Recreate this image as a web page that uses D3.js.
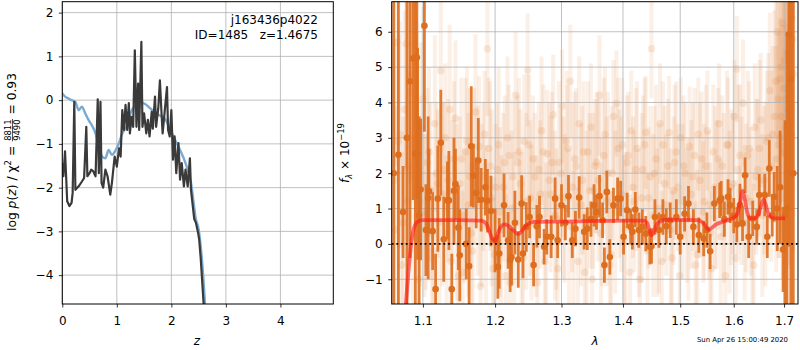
<!DOCTYPE html>
<html>
<head>
<meta charset="utf-8">
<script src="https://cdn.jsdelivr.net/npm/d3@7"></script>
<style>
  body { margin: 0; background: #fff; }
  svg { font-family: "DejaVu Sans", sans-serif; }
</style>
</head>
<body>
<div id="chart"></div>
<script>
// ---- left panel: p(z) curves ----
var pzRedshift = [0.0, 0.02, 0.05, 0.07, 0.09, 0.13, 0.17, 0.19, 0.22, 0.24, 0.30, 0.36, 0.40, 0.44, 0.46, 0.50,
    0.53, 0.57, 0.61, 0.65, 0.67, 0.70, 0.72, 0.75, 0.79, 0.83, 0.88, 0.91, 0.96, 1.00, 1.04, 1.07, 1.10,
    1.13, 1.16, 1.19, 1.22, 1.24, 1.27, 1.30, 1.33, 1.36, 1.39, 1.41, 1.45, 1.47, 1.50, 1.54, 1.57, 1.60,
    1.64, 1.66, 1.70, 1.72, 1.76, 1.79, 1.82, 1.84, 1.88, 1.92, 1.94, 1.97, 2.00, 2.03, 2.06, 2.09, 2.13,
    2.16, 2.19, 2.23, 2.26, 2.30, 2.34, 2.36, 2.42, 2.45, 2.49, 2.51, 2.54, 2.59, 2.62];
var pzLog = [-1.44, -1.74, -1.17, -1.74, -2.31, -2.42, -2.35, -2.12, -0.04, -2.05, -1.97, -1.86, -1.78, -0.61, -1.74, -1.67,
    -1.59, -1.63, -1.74, 0.02, -1.67, -0.04, -1.89, -2.00, -1.59, -1.74, -2.16, -1.89, -1.29, -1.52, -1.10, -1.29, -0.23,
    -0.68, -0.11, -0.68, -0.07, -0.76, -0.38, -0.61, 1.14, -0.61, 0.38, -0.68, 1.33, -0.61, -0.30, -0.76, -0.45, -0.83,
    -0.27, -0.65, 0.08, -0.61, -0.19, 0.45, -0.30, -0.76, -0.23, 0.30, -0.68, -0.83, -0.23, -1.36, -0.83, -1.67, -0.98,
    -1.82, -1.44, -1.97, -1.59, -1.97, -1.33, -2.05, -2.72, -2.80, -3.03, -3.18, -3.64, -4.62, -5.2];

var priorRedshift = [0.0, 0.05, 0.11, 0.17, 0.24, 0.30, 0.36, 0.42, 0.48, 0.54, 0.61, 0.67, 0.73, 0.79, 0.85, 0.91,
    0.98, 1.04, 1.10, 1.19, 1.25, 1.35, 1.43, 1.52, 1.65, 1.77, 1.88, 1.98, 2.07, 2.16, 2.26, 2.36, 2.45,
    2.50, 2.555, 2.615, 2.64];
var priorLog = [0.15, 0.08, 0.04, 0.0, -0.04, -0.23, -0.15, -0.30, -0.45, -0.57, -0.76, -1.06, -1.29, -1.33, -1.14, -1.25,
    -1.14, -0.98, -0.76, -0.57, -0.30, -0.11, -0.04, -0.09, -0.23, -0.34, -0.42, -0.68, -0.91, -1.14, -1.44, -1.89, -2.72,
    -2.95, -3.56, -4.62, -5.2];

var pzXTicks = [0, 1, 2, 3, 4];
var pzYTicks = [-4, -3, -2, -1, 0, 1, 2];

// ---- right panel: spectrum ----
// faint: all individual exposures (two sets)
var bgWave = [1.062, 1.066, 1.070, 1.074, 1.078, 1.081, 1.085, 1.089, 1.092, 1.096,
    1.100, 1.104, 1.108, 1.112, 1.116, 1.120, 1.124, 1.128, 1.132, 1.136,
    1.140, 1.144, 1.148, 1.152, 1.156, 1.160, 1.164, 1.168, 1.172, 1.177,
    1.181, 1.185, 1.189, 1.193, 1.197, 1.201, 1.205, 1.209, 1.214, 1.218,
    1.222, 1.226, 1.230, 1.235, 1.239, 1.243, 1.248, 1.252, 1.256, 1.261,
    1.265, 1.269, 1.274, 1.278, 1.283, 1.287, 1.292, 1.296, 1.301, 1.305,
    1.310, 1.314, 1.319, 1.323, 1.328, 1.333, 1.337, 1.342, 1.347, 1.351,
    1.356, 1.361, 1.365, 1.370, 1.375, 1.380, 1.384, 1.389, 1.394, 1.399,
    1.404, 1.409, 1.414, 1.419, 1.424, 1.429, 1.434, 1.439, 1.444, 1.449,
    1.454, 1.459, 1.464, 1.469, 1.475, 1.480, 1.485, 1.490, 1.496, 1.501,
    1.506, 1.512, 1.517, 1.523, 1.528, 1.533, 1.539, 1.544, 1.550, 1.555,
    1.561, 1.567, 1.572, 1.578, 1.584, 1.589, 1.595, 1.601, 1.606, 1.612,
    1.618, 1.624, 1.630, 1.636, 1.641, 1.647, 1.653, 1.659, 1.665, 1.671,
    1.677, 1.683, 1.686, 1.689, 1.692, 1.695, 1.698, 1.701, 1.704, 1.707,
    1.710, 1.713, 1.716, 1.719];
var bgFlux = [1.8, 5.7, 3.1, 0.6, 5.66, 2.2, 4.8, 5.66, 3.4, 1.2,
    4.1, 0.9, 2.6, -0.4, 3.4, 1.7, 4.9, 2.1, 0.3, 3.8,
    1.5, 3.55, -0.9, 2.4, 0.8, 2.9, 1.9, -0.2, 3.73, 2.75,
    1.1, 3.1, 5.52, 2.2, -0.7, 1.6, 2.8, 0.4, 2.3, 3.0,
    -1.1, 1.9, 4.2, 2.6, 0.2, 2.9, 4.92, 1.3, 2.4, 0.5,
    2.1, 3.2, -0.5, 2.55, 1.4, 3.65, 0.7, 2.3, 3.9, 1.0,
    2.7, 4.6, 0.1, 2.2, 3.4, 1.8, -0.8, 2.6, 3.3, 1.5,
    2.3, 4.2, 0.9, 3.1, 2.0, -0.3, 3.6, 3.97, 1.7, 2.8,
    0.4, 2.5, 3.2, 1.2, 2.7, -1.0, 2.1, 3.15, 1.3, 5.52,
    2.0, 0.6, 3.4, 2.8, 1.1, 3.15, -0.4, 2.3, 1.6, 3.0,
    2.2, 0.8, 2.75, 1.9, -0.6, 3.1, 2.4, 1.2, 3.2, 0.3,
    2.6, 1.4, 3.4, 2.2, -0.9, 2.8, 1.6, 3.6, 4.95, 2.5,
    3.98, 1.3, 2.7, 0.5, 3.3, 2.1, 3.5, 1.8, 2.9, 4.34,
    3.1, 4.6, 5.99, 2.8, 4.67, 3.6, 6.25, 5.2, 4.1, 6.1,
    3.3, 5.6, 6.4, 4.8];
var bgErr = [4.0, 3.5, 3.2, 3.0, 3.6, 2.8, 3.0, 3.4, 2.6, 2.4,
    2.6, 2.2, 2.4, 2.0, 2.5, 2.1, 2.3, 1.9, 2.2, 2.4,
    2.0, 2.2, 1.8, 2.3, 1.9, 2.1, 2.5, 1.7, 2.2, 2.0,
    2.3, 1.8, 1.9, 2.4, 2.0, 1.8, 2.2, 2.1, 1.9, 2.3,
    2.0, 2.2, 1.8, 2.1, 2.4, 1.9, 1.6, 2.2, 1.8, 2.0,
    1.9, 2.1, 2.0, 1.8, 2.2, 1.7, 2.0, 2.3, 1.6, 2.1,
    1.8, 1.6, 2.0, 2.2, 1.9, 2.1, 1.7, 2.0, 1.8, 2.2,
    2.0, 1.7, 2.1, 1.9, 2.3, 1.8, 1.6, 1.5, 2.1, 1.9,
    2.2, 1.8, 1.7, 2.0, 1.9, 1.8, 2.1, 1.6, 2.0, 1.4,
    1.9, 2.1, 1.7, 1.8, 2.0, 1.6, 1.9, 2.2, 1.8, 1.7,
    2.0, 1.9, 1.7, 2.1, 1.8, 1.6, 1.9, 2.2, 1.7, 2.0,
    1.9, 2.1, 1.7, 2.0, 1.8, 1.9, 2.2, 1.6, 1.5, 2.0,
    1.8, 2.1, 1.9, 2.2, 1.8, 2.0, 1.9, 2.1, 2.0, 2.2,
    2.5, 2.8, 3.0, 3.2, 3.5, 3.3, 3.8, 4.0, 3.6, 4.2,
    4.0, 4.5, 4.8, 5.0];

var bg2Wave = [1.064, 1.068, 1.072, 1.076, 1.080, 1.083, 1.087, 1.091, 1.094, 1.098,
    1.102, 1.106, 1.110, 1.114, 1.118, 1.122, 1.126, 1.130, 1.134, 1.138,
    1.142, 1.146, 1.150, 1.154, 1.158, 1.162, 1.166, 1.170, 1.175, 1.179,
    1.183, 1.187, 1.191, 1.195, 1.199, 1.203, 1.207, 1.212, 1.216, 1.220,
    1.224, 1.228, 1.233, 1.237, 1.241, 1.246, 1.250, 1.254, 1.259, 1.263,
    1.267, 1.272, 1.276, 1.281, 1.285, 1.290, 1.294, 1.299, 1.303, 1.308,
    1.312, 1.317, 1.321, 1.326, 1.331, 1.335, 1.340, 1.345, 1.349, 1.354,
    1.359, 1.363, 1.368, 1.373, 1.378, 1.382, 1.387, 1.392, 1.397, 1.402,
    1.407, 1.412, 1.417, 1.422, 1.427, 1.432, 1.437, 1.442, 1.447, 1.452,
    1.457, 1.462, 1.467, 1.472, 1.478, 1.483, 1.488, 1.493, 1.499, 1.504,
    1.509, 1.515, 1.520, 1.526, 1.531, 1.536, 1.542, 1.547, 1.553, 1.558,
    1.564, 1.570, 1.575, 1.581, 1.587, 1.592, 1.598, 1.604, 1.609, 1.615,
    1.621, 1.627, 1.633, 1.639, 1.644, 1.650, 1.656, 1.662, 1.668, 1.674,
    1.680, 1.684, 1.688, 1.691, 1.694, 1.697, 1.700, 1.703, 1.706, 1.709,
    1.712, 1.715, 1.718];
var bg2Flux = [0.4, 2.9, -0.6, 3.8, 1.2, 4.3, 0.2, 2.7, -1.0, 3.3,
    0.8, 2.3, 1.5, -0.2, 2.0, 0.6, 1.4, 3.0, 1.8, -0.5,
    2.4, 0.9, 1.7, -0.8, 2.6, 1.1, 0.3, 2.2, 1.5, -1.2,
    1.9, 0.5, 2.7, 1.3, -0.3, 2.1, 0.9, 1.6, -0.9, 2.5,
    1.0, 0.2, 2.3, 1.7, -0.4, 1.2, 2.8, 0.6, 1.9, -1.1,
    1.4, 2.6, 0.0, 1.8, 2.3, 0.8, -0.7, 2.0, 1.3, 2.9,
    0.5, 1.6, 2.4, -0.5, 1.1, 2.6, 0.7, 1.5, -1.0, 2.2,
    1.8, 0.3, 2.5, 1.2, -0.6, 2.0, 0.9, 2.7, 1.4, 0.1,
    2.3, -0.8, 1.6, 2.1, 0.6, 1.3, 2.8, -0.2, 1.9, 0.8,
    2.4, 1.0, -0.5, 1.7, 2.2, 0.4, 1.5, 2.6, -0.9, 1.2,
    2.0, 0.7, 1.4, 2.5, -0.3, 1.8, 0.9, 2.2, 1.1, -0.7,
    1.6, 2.4, 0.2, 1.3, 2.8, 0.9, 1.7, -0.4, 2.1, 1.5,
    0.6, 2.5, 1.2, -0.6, 1.9, 2.7, 0.8, 1.4, 3.0, 2.2,
    3.6, 2.4, 4.1, 3.0, 5.0, 2.6, 4.4, 3.3, 5.4, 3.8,
    4.6, 3.1, 5.8];
var bg2Err = [3.5, 3.0, 3.2, 2.8, 3.0, 2.6, 2.9, 2.5, 2.7, 2.4,
    2.3, 2.1, 2.5, 2.2, 2.0, 2.4, 2.6, 2.1, 2.3, 2.0,
    2.2, 2.5, 1.9, 2.3, 2.1, 2.6, 2.0, 2.2, 2.4, 1.9,
    2.1, 2.3, 2.0, 2.5, 2.2, 1.9, 2.4, 2.1, 2.3, 2.0,
    2.2, 2.4, 1.9, 2.1, 2.3, 2.5, 2.0, 2.2, 1.8, 2.4,
    2.1, 1.9, 2.3, 2.2, 2.0, 2.4, 2.1, 1.8, 2.3, 2.0,
    2.2, 2.4, 1.9, 2.1, 2.3, 2.0, 2.5, 2.2, 2.1, 1.9,
    2.3, 2.0, 2.2, 2.4, 2.1, 1.9, 2.3, 2.0, 2.2, 2.4,
    1.9, 2.2, 2.0, 2.3, 2.1, 2.4, 1.9, 2.2, 2.0, 2.3,
    2.1, 2.4, 2.0, 2.2, 1.9, 2.3, 2.1, 2.0, 2.4, 2.2,
    2.0, 2.3, 2.1, 1.9, 2.4, 2.2, 2.0, 2.3, 2.1, 2.2,
    2.3, 2.0, 2.2, 2.4, 2.1, 2.3, 2.0, 2.2, 2.4, 2.1,
    2.2, 2.4, 2.1, 2.3, 2.2, 2.5, 2.3, 2.6, 2.4, 2.7,
    3.0, 3.2, 3.5, 3.4, 3.8, 3.6, 4.0, 3.9, 4.2, 4.4,
    4.5, 4.8, 5.0];

// bright: combined 1D spectrum
var specWave = [1.062, 1.068, 1.074, 1.079, 1.083, 1.087, 1.090, 1.092, 1.093, 1.095,
    1.097, 1.102, 1.104, 1.107, 1.108, 1.113, 1.117, 1.120, 1.124, 1.128,
    1.133, 1.135, 1.139, 1.142, 1.144, 1.148, 1.150, 1.159, 1.163, 1.166,
    1.169, 1.173, 1.176, 1.180, 1.186, 1.189, 1.194, 1.200, 1.204, 1.206,
    1.213, 1.219, 1.222, 1.224, 1.229, 1.234, 1.239, 1.241, 1.246, 1.251,
    1.257, 1.262, 1.266, 1.273, 1.277, 1.284, 1.290, 1.294, 1.300, 1.306,
    1.311, 1.317, 1.322, 1.328, 1.336, 1.341, 1.347, 1.352, 1.356, 1.361,
    1.366, 1.369, 1.373, 1.378, 1.384, 1.391, 1.396, 1.401, 1.407, 1.413,
    1.416, 1.421, 1.427, 1.433, 1.439, 1.446, 1.449, 1.455, 1.462, 1.469,
    1.475, 1.482, 1.493, 1.500, 1.508, 1.515, 1.524, 1.534, 1.543, 1.549,
    1.555, 1.563, 1.573, 1.576, 1.582, 1.589, 1.593, 1.600, 1.606, 1.612,
    1.617, 1.622, 1.629, 1.637, 1.645, 1.650, 1.661, 1.666, 1.670, 1.676,
    1.680, 1.686, 1.692, 1.698, 1.702, 1.706, 1.710, 1.714, 1.719];
var specFlux = [2.0, 2.52, 0.9, 3.0, 4.6, 5.24, 2.55, 5.27, 2.55, 0.8,
    1.54, 6.17, 0.39, 1.3, 1.49, 0.36, -1.28, 1.28, 2.86, 0.13,
    1.23, 1.23, -1.28, 1.5, 1.69, 0.46, -0.32, 0.0, -0.63, 2.76,
    1.93, 1.44, 2.36, 1.25, 1.6, 1.22, 0.93, 0.1, -0.65, -0.27,
    1.09, 0.1, -0.46, -0.37, 0.6, -0.44, 1.14, -0.27, 0.48, 0.76,
    -0.6, 0.5, 0.76, -0.08, 0.2, 0.2, 1.28, 0.1, 1.09, 0.6,
    1.35, 0.1, 0.43, 1.31, 0.34, 0.43, 0.7, 1.09, 0.9, 1.35,
    0.67, -0.6, 1.47, -0.37, 1.09, 1.28, 1.28, 0.2, 0.95, 0.48,
    0.34, 0.97, 0.39, 0.48, 0.29, -0.08, -0.06, 0.76, 0.39, 0.76,
    0.5, 0.67, 0.76, 0.2, 0.85, 1.14, 0.48, 0.25, 0.15, 0.39,
    -0.21, 1.14, 1.23, 1.28, 0.7, 1.33, 1.09, 0.8, 0.55, 1.1,
    0.58, 1.94, 0.2, 0.72, 0.48, 1.38, 1.38, 0.2, 2.13, 0.81,
    1.33, 1.0, 1.6, -0.16, 0.8, 1.0, 5.92, 4.67, 2.0];
var specErr = [9.0, 8.0, 1.3, 6.0, 5.0, 4.0, 4.5, 4.0, 3.0, 2.8,
    2.0, 3.0, 1.3, 2.3, 1.2, 1.1, 1.0, 1.5, 1.5, 1.2,
    1.1, 1.4, 1.0, 1.5, 1.0, 1.2, 1.3, 1.0, 1.1, 1.7,
    0.9, 1.0, 1.2, 0.9, 0.8, 0.9, 1.0, 0.9, 0.9, 1.0,
    0.9, 0.8, 0.9, 0.8, 0.9, 0.8, 0.8, 0.7, 0.7, 0.6,
    0.6, 0.6, 0.6, 0.5, 0.5, 0.6, 0.6, 0.5, 0.6, 0.5,
    0.6, 0.5, 0.5, 0.6, 0.5, 0.6, 0.5, 0.6, 0.5, 0.6,
    0.5, 0.5, 0.6, 0.5, 0.5, 0.6, 0.5, 0.5, 0.5, 0.5,
    0.5, 0.5, 0.5, 0.5, 0.5, 0.5, 0.5, 0.5, 0.5, 0.5,
    0.5, 0.5, 0.5, 0.5, 0.5, 0.5, 0.5, 0.5, 0.5, 0.5,
    0.5, 0.5, 0.5, 0.5, 0.5, 0.5, 0.5, 0.5, 0.5, 0.6,
    0.5, 0.5, 0.6, 0.5, 0.5, 0.6, 0.6, 0.6, 0.8, 0.6,
    0.7, 1.2, 1.6, 1.2, 2.7, 5.0, 6.0, 7.0, 10.0];

// best-fit template
var modelWave = [1.074, 1.078, 1.081, 1.084, 1.087, 1.090, 1.094, 1.100, 1.150, 1.180,
    1.186, 1.191, 1.196, 1.200, 1.204, 1.209, 1.214, 1.220, 1.227, 1.233,
    1.238, 1.244, 1.250, 1.258, 1.300, 1.400, 1.435, 1.441, 1.445, 1.449,
    1.453, 1.458, 1.465, 1.475, 1.530, 1.540, 1.548, 1.553, 1.558, 1.566,
    1.578, 1.590, 1.600, 1.607, 1.612, 1.617, 1.621, 1.626, 1.632, 1.640,
    1.647, 1.653, 1.658, 1.663, 1.668, 1.675, 1.685, 1.702];
var modelFlux = [-2.5, -1.6, -0.8, -0.1, 0.35, 0.55, 0.64, 0.67, 0.67, 0.66,
    0.6, 0.4, 0.15, 0.08, 0.3, 0.5, 0.55, 0.5, 0.38, 0.28,
    0.33, 0.48, 0.58, 0.62, 0.63, 0.66, 0.66, 0.6, 0.4, 0.24,
    0.35, 0.55, 0.65, 0.68, 0.67, 0.62, 0.48, 0.4, 0.45, 0.55,
    0.62, 0.68, 0.74, 0.85, 1.15, 1.5, 1.3, 0.9, 0.72, 0.72,
    0.8, 1.05, 1.25, 1.1, 0.85, 0.74, 0.72, 0.72];

var specXTicks = [1.1, 1.2, 1.3, 1.4, 1.5, 1.6, 1.7];
var specYTicks = [-1, 0, 1, 2, 3, 4, 5, 6];

var fontSize = 12;
var orange = "#de6e1e";

var svg = d3.select("#chart")
    .append("svg")
    .attr("width", 800)
    .attr("height", 350);

svg.append("rect").attr("width", 800).attr("height", 350).attr("fill", "#fff");

var defs = svg.append("defs");

// ================= left panel =================
var left = { x0: 62.3, x1: 333.3, y0: 1.7, y1: 304 };

var zx = d3.scaleLinear().domain([0, 4.97]).range([left.x0, left.x1]);
var zy = d3.scaleLinear().domain([-4.66, 2.25]).range([left.y1, left.y0]);

defs.append("clipPath").attr("id", "clipLeft")
    .append("rect")
    .attr("x", left.x0).attr("y", left.y0)
    .attr("width", left.x1 - left.x0).attr("height", left.y1 - left.y0);

var gLeft = svg.append("g");

// grid
gLeft.selectAll(".vgrid").data(pzXTicks).enter().append("line")
    .attr("x1", d => zx(d)).attr("x2", d => zx(d))
    .attr("y1", left.y0).attr("y2", left.y1)
    .attr("stroke", "#b0b0b0").attr("stroke-width", 0.8);
gLeft.selectAll(".hgrid").data(pzYTicks).enter().append("line")
    .attr("x1", left.x0).attr("x2", left.x1)
    .attr("y1", d => zy(d)).attr("y2", d => zy(d))
    .attr("stroke", "#b0b0b0").attr("stroke-width", 0.8);

var plotLeft = gLeft.append("g").attr("clip-path", "url(#clipLeft)");

var priorLine = d3.line()
    .x((d, i) => zx(priorRedshift[i]))
    .y(d => zy(d))
    .curve(d3.curveMonotoneX);

plotLeft.append("path")
    .attr("d", priorLine(priorLog))
    .attr("fill", "none")
    .attr("stroke", "#7aaad2")
    .attr("stroke-width", 2.4);

var pzLine = d3.line()
    .x((d, i) => zx(pzRedshift[i]))
    .y(d => zy(d));

plotLeft.append("path")
    .attr("d", pzLine(pzLog))
    .attr("fill", "none")
    .attr("stroke", "#3a3a3a")
    .attr("stroke-width", 2.2)
    .attr("stroke-linejoin", "round");

// axes
gLeft.append("g")
    .attr("transform", `translate(0, ${left.y1})`)
    .call(d3.axisBottom(zx).tickValues(pzXTicks).tickSize(3.5).tickPadding(8.5).tickFormat(d3.format("d")));
gLeft.append("g")
    .attr("transform", `translate(${left.x0}, 0)`)
    .call(d3.axisLeft(zy).tickValues(pzYTicks).tickSize(3.5).tickPadding(5.5).tickFormat(d3.format("d")));

gLeft.append("rect")
    .attr("x", left.x0).attr("y", left.y0)
    .attr("width", left.x1 - left.x0).attr("height", left.y1 - left.y0)
    .attr("fill", "none").attr("stroke", "#000").attr("stroke-width", 1);

gLeft.append("text")
    .attr("x", 318).attr("y", 24)
    .attr("text-anchor", "end")
    .attr("font-size", fontSize)
    .text("j163436p4022");
gLeft.append("text")
    .attr("x", 318).attr("y", 39)
    .attr("text-anchor", "end")
    .attr("font-size", fontSize)
    .text("ID=1485\u00a0\u00a0\u00a0z=1.4675");

gLeft.append("text")
    .attr("x", zx(2.47)).attr("y", 345)
    .attr("text-anchor", "middle")
    .attr("font-size", fontSize)
    .attr("font-style", "italic")
    .text("z");

// rotated y label with fraction, pieces laid out one after another
var labSize = 12.3;
var yLab = gLeft.append("g").attr("transform", "translate(16, 152) rotate(-90)");
var pieces = [
    { t: "log\u00a0", size: labSize },
    { t: "p", size: labSize, it: true },
    { t: "(", size: labSize },
    { t: "z", size: labSize, it: true },
    { t: ")\u00a0/\u00a0χ", size: labSize },
    { t: "2", size: 8.6, dy: -5.5 },
    { t: "\u00a0=\u00a0", size: labSize },
    { frac: ["8811", "9490"], size: 8.4 },
    { t: "\u00a0=\u00a00.93", size: labSize }
];
var cursor = 0;
pieces.forEach(function(p) {
    if (p.frac) {
        var num = yLab.append("text").attr("y", -5)
            .attr("font-size", p.size).attr("text-anchor", "middle").text(p.frac[0]);
        var den = yLab.append("text").attr("y", 4)
            .attr("font-size", p.size).attr("text-anchor", "middle").text(p.frac[1]);
        var w = Math.max(num.node().getComputedTextLength(), den.node().getComputedTextLength());
        num.attr("x", cursor + w / 2 + 1);
        den.attr("x", cursor + w / 2 + 1);
        yLab.append("line")
            .attr("x1", cursor + 0.5).attr("x2", cursor + w + 1.5)
            .attr("y1", -3.5).attr("y2", -3.5)
            .attr("stroke", "#000").attr("stroke-width", 0.7);
        cursor += w + 2;
    } else {
        var t = yLab.append("text")
            .attr("x", cursor).attr("y", p.dy || 0)
            .attr("font-size", p.size)
            .attr("font-style", p.it ? "italic" : null)
            .text(p.t);
        cursor += t.node().getComputedTextLength();
    }
});
yLab.selectAll("*").attr("transform", `translate(${-cursor / 2}, 0)`);

// ================= right panel =================
var right = { x0: 391.7, x1: 798, y0: 1.7, y1: 304 };

var wx = d3.scaleLog().domain([1.0594, 1.7288]).range([right.x0, right.x1]);
var fy = d3.scaleLinear().domain([-1.70, 6.85]).range([right.y1, right.y0]);

defs.append("clipPath").attr("id", "clipRight")
    .append("rect")
    .attr("x", right.x0).attr("y", right.y0)
    .attr("width", right.x1 - right.x0).attr("height", right.y1 - right.y0);

var gRight = svg.append("g");
var plotRight = gRight.append("g").attr("clip-path", "url(#clipRight)");

// faint individual exposures
function drawFaint(wave, flux, err) {
    var g = plotRight.append("g");
    g.selectAll("line").data(flux).enter().append("line")
        .attr("x1", (d, i) => wx(wave[i])).attr("x2", (d, i) => wx(wave[i]))
        .attr("y1", (d, i) => fy(d - err[i])).attr("y2", (d, i) => fy(d + err[i]))
        .attr("stroke", orange).attr("stroke-opacity", 0.11).attr("stroke-width", 4);
    g.selectAll("circle").data(flux).enter().append("circle")
        .attr("cx", (d, i) => wx(wave[i]))
        .attr("cy", d => fy(d))
        .attr("r", 3.8)
        .attr("fill", orange).attr("fill-opacity", 0.14);
}
drawFaint(bgWave, bgFlux, bgErr);
drawFaint(bg2Wave, bg2Flux, bg2Err);

// grid
gRight.selectAll(".vgrid").data(specXTicks).enter().append("line")
    .attr("x1", d => wx(d)).attr("x2", d => wx(d))
    .attr("y1", right.y0).attr("y2", right.y1)
    .attr("stroke", "#b0b0b0").attr("stroke-width", 0.8);
gRight.selectAll(".hgrid").data(specYTicks).enter().append("line")
    .attr("x1", right.x0).attr("x2", right.x1)
    .attr("y1", d => fy(d)).attr("y2", d => fy(d))
    .attr("stroke", "#b0b0b0").attr("stroke-width", 0.8);

var plotTop = gRight.append("g").attr("clip-path", "url(#clipRight)");

// combined spectrum with error bars
plotTop.selectAll(".bar").data(specFlux).enter().append("line")
    .attr("x1", (d, i) => wx(specWave[i])).attr("x2", (d, i) => wx(specWave[i]))
    .attr("y1", (d, i) => fy(d - specErr[i])).attr("y2", (d, i) => fy(d + specErr[i]))
    .attr("stroke", orange).attr("stroke-opacity", 0.9).attr("stroke-width", 2.8);
plotTop.selectAll(".dot").data(specFlux).enter().append("circle")
    .attr("cx", (d, i) => wx(specWave[i]))
    .attr("cy", d => fy(d))
    .attr("r", 3.3)
    .attr("fill", orange);

// model
var modelLine = d3.line()
    .x((d, i) => wx(modelWave[i]))
    .y(d => fy(d))
    .curve(d3.curveMonotoneX);
plotTop.append("path")
    .attr("d", modelLine(modelFlux))
    .attr("fill", "none")
    .attr("stroke", "#ff1a1a")
    .attr("stroke-opacity", 0.62)
    .attr("stroke-width", 3.8)
    .attr("stroke-linejoin", "round");

// zero line
plotTop.append("line")
    .attr("x1", right.x0).attr("x2", right.x1)
    .attr("y1", fy(0)).attr("y2", fy(0))
    .attr("stroke", "#000").attr("stroke-width", 1.8)
    .attr("stroke-dasharray", "1.8,2.9");

gRight.append("g")
    .attr("transform", `translate(0, ${right.y1})`)
    .call(d3.axisBottom(wx).tickValues(specXTicks).tickSize(3.5).tickPadding(8.5).tickFormat(d3.format(".1f")));
gRight.append("g")
    .attr("transform", `translate(${right.x0}, 0)`)
    .call(d3.axisLeft(fy).tickValues(specYTicks).tickSize(3.5).tickPadding(5.5).tickFormat(d3.format("d")));

gRight.append("rect")
    .attr("x", right.x0).attr("y", right.y0)
    .attr("width", right.x1 - right.x0).attr("height", right.y1 - right.y0)
    .attr("fill", "none").attr("stroke", "#000").attr("stroke-width", 1);

gRight.append("text")
    .attr("x", 595).attr("y", 345)
    .attr("text-anchor", "middle")
    .attr("font-size", fontSize)
    .attr("font-style", "italic")
    .text("λ");

var fLab = gRight.append("text")
    .attr("transform", "translate(349, 153) rotate(-90)")
    .attr("text-anchor", "middle")
    .attr("font-size", fontSize);
fLab.append("tspan").attr("font-style", "italic").text("f");
fLab.append("tspan").attr("font-style", "italic").attr("font-size", 8.4).attr("dy", 2.5).text("λ");
fLab.append("tspan").attr("dy", -2.5).text("\u00a0×\u00a010");
fLab.append("tspan").attr("font-size", 8.4).attr("dy", -5).text("−19");

svg.append("text")
    .attr("x", 788).attr("y", 342)
    .attr("text-anchor", "end")
    .attr("font-size", 6.9)
    .text("Sun Apr 26 15:00:49 2020");

// tick styling
svg.selectAll(".tick text").attr("font-size", fontSize).attr("font-family", "DejaVu Sans").attr("fill", "#000");
svg.selectAll(".tick line").attr("stroke", "#000").attr("stroke-width", 0.8);
svg.selectAll(".domain").remove();
</script>
</body>
</html>
